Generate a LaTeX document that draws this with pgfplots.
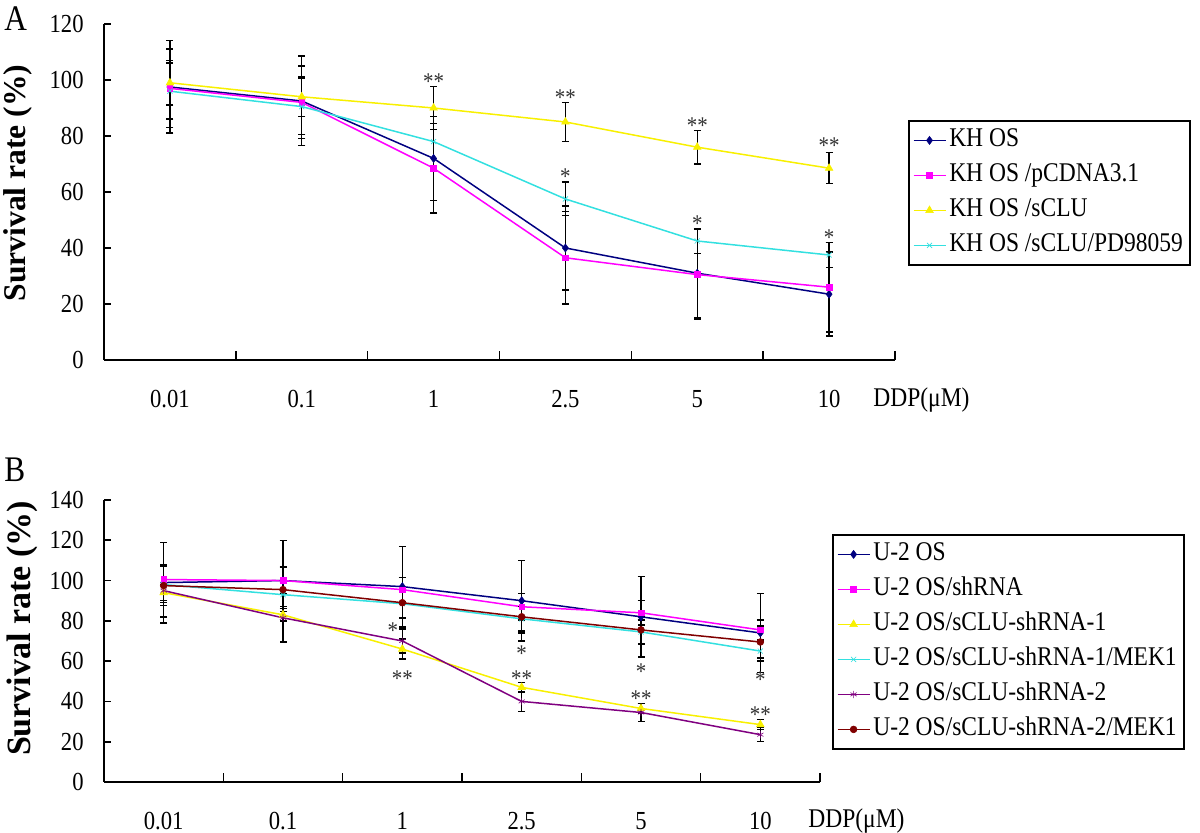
\documentclass[border=0pt]{standalone}
\usepackage{fontspec}
\setmainfont{Liberation Serif}[FakeStretch=0.87]
\newfontfamily\ylabfont{Liberation Serif}
\usepackage{pgfplots}
\pgfplotsset{compat=1.18}
\definecolor{cnavy}{HTML}{000080}
\definecolor{cmag}{HTML}{FF00FF}
\definecolor{cyel}{HTML}{F8F000}
\definecolor{ccyan}{HTML}{33E0E0}
\definecolor{cpur}{HTML}{800080}
\definecolor{cdred}{HTML}{800000}
\pgfplotsset{
  mystyle/.style={
    scale only axis,
    axis x line*=bottom, axis y line*=left,
    axis line style={black, line width=1pt},
    xmin=-0.5, xmax=5.5,
    xtick={0,...,5},
    xticklabels={0.01,0.1,1,2.5,5,10},
    every major x tick/.append style={draw=none},
    minor xtick={0.5,1.5,2.5,3.5,4.5,5.5},
    every minor x tick/.append style={black, line width=0.8pt},
    every major y tick/.append style={black, line width=0.8pt},
    minor tick length=4.5pt,
    major tick length=3.5pt,
    tick align=inside,
    xticklabel style={anchor=base, yshift=-24pt, inner sep=0pt},
    yticklabel style={anchor=east, inner sep=0pt, xshift=-10pt},
    tick label style={font=\fontsize{13}{15}\selectfont},
    /pgf/number format/assume math mode=true,
    clip=false,
    error bars/y dir=both, error bars/y explicit,
    error bars/error bar style={black, line width=0.7pt},
    error bars/error mark options={black, rotate=90, mark size=1.75pt, line width=0.7pt},
    legend image code/.code={\draw[mark repeat=2,mark phase=2,##1] plot coordinates {(0pt,0pt) (8pt,0pt) (16pt,0pt)};},
    legend cell align=left,
    legend style={draw=black, line width=0.8pt, anchor=north west,
      font=\fontsize{13.5}{15}\selectfont, inner sep=2pt, row sep=2pt,
      nodes={inner sep=1.5pt, text height=9.5pt, text depth=3pt}},
  },
  pl/.style={color=#1, line width=0.75pt, mark options={solid, fill=#1, line width=0.3pt}},
}
\tikzset{star/.style={font=\fontsize{12}{12}\selectfont, text=black!80, inner sep=0pt, yshift=-1.8pt}}
\begin{document}
\begin{tikzpicture}
\path[use as bounding box] (0,0) rectangle (600pt,416.5pt);
% ---------- Panel A ----------
\begin{axis}[mystyle, at={(52pt,236.5pt)}, anchor=south west,
  width=395.5pt, height=168pt, ymin=0, ymax=120, ytick={0,20,...,120},
  legend style={at={(1.0164,0.714)}}]
\addplot[pl=cnavy, mark=diamond*, mark size=2pt] coordinates {
 (0,97.5) +- (0,16.5) (1,92.5) +- (0,16) (2,72) +- (0,15) (3,40) +- (0,15) (4,31) +- (0,16) (5,23.5) +- (0,15)};
\addlegendentry{KH OS}
\addplot[pl=cmag, mark=square*, mark size=1.4pt] coordinates {
 (0,97) +- (0,14) (1,92) +- (0,13) (2,68.5) +- (0,16) (3,36.5) +- (0,16.5) (4,30.5) +- (0,16) (5,26) +- (0,16)};
\addlegendentry{KH OS /pCDNA3.1}
\addplot[pl=cyel, mark=triangle*, mark size=2.2pt] coordinates {
 (0,99) +- (0,8) (1,94) +- (0,7) (2,90) +- (0,7.7) (3,85) +- (0,7) (4,76) +- (0,6) (5,68.5) +- (0,5.5)};
\addlegendentry{KH OS /sCLU}
\addplot[pl=ccyan, mark=x, mark size=1.8pt] coordinates {
 (0,96) +- (0,10) (1,90.5) +- (0,10) (2,78) +- (0,9) (3,57.5) +- (0,6) (4,42.5) +- (0,4.5) (5,37.5) +- (0,4.5)};
\addlegendentry{KH OS /sCLU/PD98059}
\node[star] at (axis cs:2,100.7) {**};
\node[star] at (axis cs:3,95) {**};
\node[star] at (axis cs:3,66.6) {*};
\node[star] at (axis cs:4,85) {**};
\node[star] at (axis cs:4,50) {*};
\node[star] at (axis cs:5,78) {**};
\node[star] at (axis cs:5,45) {*};
\end{axis}
% ---------- Panel B ----------
\begin{axis}[mystyle, at={(52pt,25.5pt)}, anchor=south west,
  width=358pt, height=141pt, ymin=0, ymax=140, ytick={0,20,...,140},
  legend style={at={(1.0168,0.879)}}]
\addplot[pl=cnavy, mark=diamond*, mark size=2pt] coordinates {
 (0,99) +- (0,20) (1,100) +- (0,20) (2,97) +- (0,20) (3,90) +- (0,20) (4,82) +- (0,20) (5,74) +- (0,19.5)};
\addlegendentry{U-2 OS}
\addplot[pl=cmag, mark=square*, mark size=1.4pt] coordinates {
 (0,100.5) +- (0,7) (1,100) +- (0,7) (2,95.5) +- (0,6) (3,87) +- (0,6.5) (4,84) +- (0,6) (5,75.5) +- (0,5)};
\addlegendentry{U-2 OS/shRNA}
\addplot[pl=cyel, mark=triangle*, mark size=2.2pt] coordinates {
 (0,94) +- (0,4) (1,83) +- (0,3) (2,66) +- (0,5) (3,47) +- (0,2.5) (4,36.5) +- (0,2.5) (5,28.5) +- (0,2.5)};
\addlegendentry{U-2 OS/sCLU-shRNA-1}
\addplot[pl=ccyan, mark=x, mark size=1.8pt] coordinates {
 (0,98) +- (0,9) (1,93) +- (0,6) (2,88.5) +- (0,7) (3,81) +- (0,6) (4,74.5) +- (0,6) (5,65) +- (0,5)};
\addlegendentry{U-2 OS/sCLU-shRNA-1/MEK1}
\addplot[pl=cpur, mark=asterisk, mark size=1.8pt] coordinates {
 (0,95) +- (0,13) (1,81.5) +- (0,12) (2,70) +- (0,6) (3,40) +- (0,5) (4,34.5) +- (0,4.5) (5,23.5) +- (0,3.5)};
\addlegendentry{U-2 OS/sCLU-shRNA-2}
\addplot[pl=cdred, mark=*, mark size=1.7pt] coordinates {
 (0,97.5) +- (0,10) (1,95.5) +- (0,11) (2,89) +- (0,12.5) (3,82) +- (0,8) (4,75.5) +- (0,7) (5,69.5) +- (0,8)};
\addlegendentry{U-2 OS/sCLU-shRNA-2/MEK1}
\node[star] at (axis cs:1.92,77) {*};
\node[star] at (axis cs:2,53) {**};
\node[star] at (axis cs:3,65.6) {*};
\node[star] at (axis cs:3,53.2) {**};
\node[star] at (axis cs:4,56.5) {*};
\node[star] at (axis cs:4,43.3) {**};
\node[star] at (axis cs:5,52.4) {*};
\node[star] at (axis cs:5,35.1) {**};
\end{axis}
% ---------- labels ----------
\node[anchor=base west, inner sep=0pt, font=\fontsize{18}{20}\selectfont] at (2pt,401pt) {A};
\node[anchor=base west, inner sep=0pt, font=\fontsize{18}{20}\selectfont] at (2pt,175.5pt) {B};
\node[rotate=90, inner sep=0pt, font=\ylabfont\bfseries\fontsize{15.8}{18}\selectfont] at (9pt,325pt) {Survival rate (\%)};
\node[rotate=90, inner sep=0pt, font=\ylabfont\bfseries\fontsize{17}{19}\selectfont] at (11pt,102.25pt) {Survival rate (\%)};
\node[anchor=base west, inner sep=0pt, font=\fontsize{13.5}{15}\selectfont] at (436.5pt,213pt) {DDP(μM)};
\node[anchor=base west, inner sep=0pt, font=\fontsize{13.5}{15}\selectfont] at (404pt,2.5pt) {DDP(μM)};
\end{tikzpicture}
\end{document}
